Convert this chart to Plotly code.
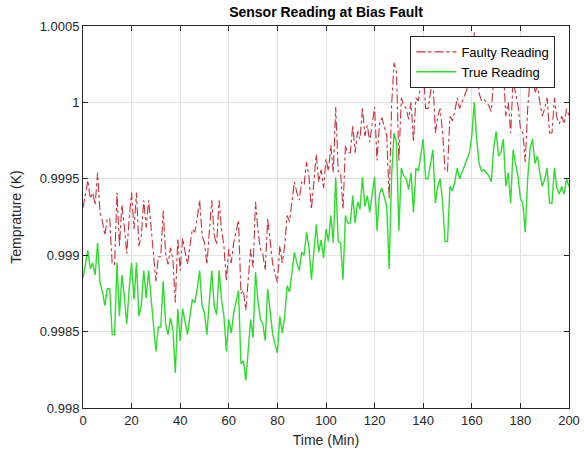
import plotly.graph_objects as go

time_min = list(range(0, 201))

true_reading = [
    0.99885, 0.99895, 0.99903, 0.99891, 0.99895, 0.99887, 0.99908, 0.99882, 0.99876, 0.99867,
    0.99878, 0.99878, 0.99848, 0.99848, 0.99895, 0.99860, 0.99887, 0.99873, 0.99855, 0.99878,
    0.99895, 0.99871, 0.99895, 0.99860, 0.99867, 0.99890, 0.99872, 0.99890, 0.99873, 0.99855,
    0.99837, 0.99853, 0.99853, 0.99883, 0.99855, 0.99848, 0.99859, 0.99851, 0.99823, 0.99865,
    0.99844, 0.99865, 0.99855, 0.99848, 0.99860, 0.99871, 0.99869, 0.99878, 0.99890, 0.99867,
    0.99862, 0.99848, 0.99870, 0.99890, 0.99867, 0.99861, 0.99890, 0.99871, 0.99860, 0.99837,
    0.99858, 0.99849, 0.99862, 0.99870, 0.99877, 0.99829, 0.99831, 0.99818, 0.99840, 0.99858,
    0.99846, 0.99889, 0.99870, 0.99858, 0.99855, 0.99844, 0.99878, 0.99865, 0.99849, 0.99842,
    0.99836, 0.99860, 0.99849, 0.99860, 0.99880, 0.99876, 0.99891, 0.99902, 0.99895, 0.99890,
    0.99902, 0.99900, 0.99915, 0.99905, 0.99884, 0.99905, 0.99920, 0.99902, 0.99910, 0.99898,
    0.99917, 0.99909, 0.99926, 0.99908, 0.99951, 0.99909, 0.99908, 0.99884, 0.99926, 0.99921,
    0.99921, 0.99939, 0.99921, 0.99935, 0.99930, 0.99951, 0.99932, 0.99939, 0.99928, 0.99940,
    0.99951, 0.99916, 0.99940, 0.99944, 0.99938, 0.99932, 0.99891, 0.99952, 0.99980, 0.99974,
    0.99916, 0.99957, 0.99952, 0.99950, 0.99943, 0.99954, 0.99928, 0.99957, 0.99955, 0.99965,
    0.99976, 0.99950, 0.99950, 0.99960, 0.99969, 0.99934, 0.99945, 0.99950, 0.99934, 0.99909,
    0.99909, 0.99945, 0.99942, 0.99948, 0.99957, 0.99950, 0.99954, 0.99959, 0.99962, 0.99967,
    0.99978, 1.00000, 0.99976, 0.99960, 0.99955, 0.99956, 0.99954, 0.99952, 0.99948, 0.99970,
    0.99981, 0.99965, 0.99967, 0.99976, 0.99945, 0.99954, 0.99934, 0.99969, 0.99960, 0.99952,
    0.99937, 0.99934, 0.99915, 0.99950, 0.99970, 0.99976, 0.99960, 0.99965, 0.99954, 0.99945,
    0.99950, 0.99957, 0.99934, 0.99934, 0.99957, 0.99944, 0.99940, 0.99945, 0.99940, 0.99950,
    0.99945,
]

faulty_reading = [
    0.99931, 0.99941, 0.99949, 0.99937, 0.99941, 0.99933, 0.99954, 0.99928, 0.99922, 0.99913,
    0.99924, 0.99924, 0.99894, 0.99894, 0.99941, 0.99906, 0.99933, 0.99919, 0.99901, 0.99924,
    0.99941, 0.99917, 0.99941, 0.99906, 0.99913, 0.99936, 0.99918, 0.99936, 0.99919, 0.99901,
    0.99883, 0.99899, 0.99899, 0.99929, 0.99901, 0.99894, 0.99905, 0.99897, 0.99869, 0.99911,
    0.99890, 0.99911, 0.99901, 0.99894, 0.99906, 0.99917, 0.99915, 0.99924, 0.99936, 0.99913,
    0.99908, 0.99894, 0.99916, 0.99936, 0.99913, 0.99907, 0.99936, 0.99917, 0.99906, 0.99883,
    0.99904, 0.99895, 0.99908, 0.99916, 0.99923, 0.99875, 0.99877, 0.99864, 0.99886, 0.99904,
    0.99892, 0.99935, 0.99916, 0.99904, 0.99901, 0.99890, 0.99924, 0.99911, 0.99895, 0.99888,
    0.99882, 0.99906, 0.99895, 0.99906, 0.99926, 0.99922, 0.99937, 0.99948, 0.99941, 0.99936,
    0.99948, 0.99946, 0.99961, 0.99951, 0.99930, 0.99951, 0.99966, 0.99948, 0.99956, 0.99944,
    0.99963, 0.99955, 0.99972, 0.99954, 0.99997, 0.99955, 0.99954, 0.99930, 0.99972, 0.99967,
    0.99967, 0.99985, 0.99967, 0.99981, 0.99976, 0.99997, 0.99978, 0.99985, 0.99974, 0.99986,
    0.99997, 0.99962, 0.99986, 0.99990, 0.99984, 0.99978, 0.99937, 0.99998, 1.00026, 1.00020,
    0.99962, 1.00003, 0.99998, 0.99996, 0.99989, 1.00000, 0.99974, 1.00003, 1.00001, 1.00011,
    1.00022, 0.99996, 0.99996, 1.00006, 1.00015, 0.99980, 0.99991, 0.99996, 0.99980, 0.99955,
    0.99955, 0.99991, 0.99988, 0.99994, 1.00003, 0.99996, 1.00000, 1.00005, 1.00008, 1.00013,
    1.00024, 1.00046, 1.00022, 1.00006, 1.00001, 1.00002, 1.00000, 0.99998, 0.99994, 1.00016,
    1.00027, 1.00011, 1.00013, 1.00022, 0.99991, 1.00000, 0.99980, 1.00015, 1.00006, 0.99998,
    0.99983, 0.99980, 0.99961, 0.99996, 1.00016, 1.00022, 1.00006, 1.00011, 1.00000, 0.99991,
    0.99996, 1.00003, 0.99980, 0.99980, 1.00003, 0.99990, 0.99986, 0.99991, 0.99986, 0.99996,
    0.99991,
]

x_ticks = [0, 20, 40, 60, 80, 100, 120, 140, 160, 180, 200]
y_ticks = [0.998, 0.9985, 0.999, 0.9995, 1.0, 1.0005]
y_tick_labels = ["0.998", "0.9985", "0.999", "0.9995", "1", "1.0005"]

FONT = "Liberation Sans, Arial, sans-serif"

fig = go.Figure()
fig.add_trace(go.Scatter(
    x=time_min, y=faulty_reading, mode="lines", name="Faulty Reading",
    line=dict(color="#C8323C", width=1.1, dash="dashdot"),
))
fig.add_trace(go.Scatter(
    x=time_min, y=true_reading, mode="lines", name="True Reading",
    line=dict(color="#2EDB2E", width=1.4),
))

axis_common = dict(
    showline=True, linecolor="#262626", linewidth=1, mirror="allticks",
    ticks="inside", ticklen=5, tickcolor="#262626",
    showgrid=True, gridcolor="#E3E3E3", gridwidth=1,
    zeroline=False, automargin=False,
    tickfont=dict(family=FONT, size=13, color="#262626"),
)

fig.update_layout(
    width=584, height=459,
    margin=dict(l=83, r=15, t=26, b=51),
    paper_bgcolor="white", plot_bgcolor="white",
    title=dict(text="<b>Sensor Reading at Bias Fault</b>", x=0.5, xanchor="center",
               xref="paper", y=1 - 12 / 459, yanchor="middle",
               font=dict(family=FONT, size=14, color="black")),
    xaxis=dict(range=[0, 200], tickvals=x_ticks,
               title=dict(text="Time (Min)", font=dict(family=FONT, size=14, color="#262626"), standoff=8),
               **axis_common),
    yaxis=dict(range=[0.998, 1.0005], tickvals=y_ticks, ticktext=y_tick_labels,
               title=dict(text="Temprature (K)", font=dict(family=FONT, size=14, color="#262626"), standoff=14),
               **axis_common),
    legend=dict(x=0.972, y=0.974, xanchor="right", yanchor="top",
                bgcolor="white", bordercolor="#262626", borderwidth=1,
                font=dict(family=FONT, size=13, color="black"),
                tracegroupgap=0, itemwidth=40),
    showlegend=True,
)

fig.write_html("out.html")
